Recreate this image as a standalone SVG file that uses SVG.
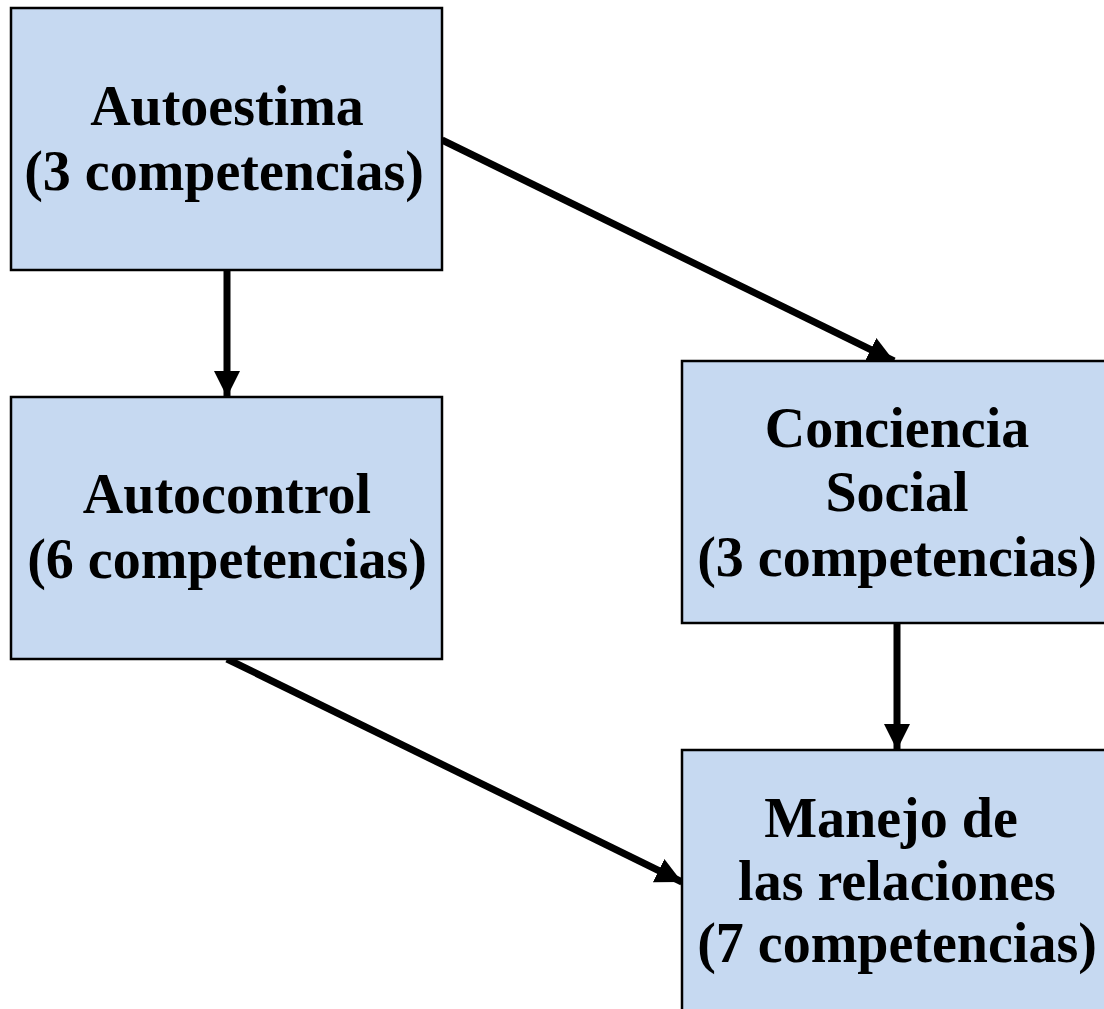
<svg xmlns="http://www.w3.org/2000/svg" width="1104" height="1009" viewBox="0 0 1104 1009">
<defs>
<style>
.box{fill:#C6D9F1;stroke:#000;stroke-width:2.5}
.t{font-family:"Liberation Serif","Times New Roman",serif;font-weight:bold;font-size:56px;fill:#000;text-anchor:middle}
.c{stroke:#000;stroke-width:7;fill:none}
</style>
<marker id="ah" markerUnits="userSpaceOnUse" markerWidth="28" markerHeight="28" viewBox="0 0 28 28" refX="26" refY="14" orient="auto">
<path d="M0,1 L26,14 L0,27 Z" fill="#000"/>
</marker>
</defs>
<rect width="1104" height="1009" fill="#fff"/>
<g id="connectors">
<line class="c" x1="227" y1="270" x2="227" y2="397" marker-end="url(#ah)"/>
<line class="c" x1="442" y1="140" x2="894" y2="361" marker-end="url(#ah)"/>
<line class="c" x1="897" y1="623" x2="897" y2="750" marker-end="url(#ah)"/>
<line class="c" x1="227" y1="659" x2="682" y2="882" marker-end="url(#ah)"/>
</g>
<g id="autoestima">
<rect class="box" x="11" y="8" width="431" height="262"/>
<text class="t" x="227" y="125">Autoestima</text>
<text class="t" x="224" y="190">(3 competencias)</text>
</g>
<g id="autocontrol">
<rect class="box" x="11" y="397" width="431" height="262"/>
<text class="t" x="227" y="513">Autocontrol</text>
<text class="t" x="227" y="578">(6 competencias)</text>
</g>
<g id="conciencia">
<rect class="box" x="682" y="361" width="431" height="262"/>
<text class="t" x="897" y="447">Conciencia</text>
<text class="t" x="897" y="511">Social</text>
<text class="t" x="897" y="576">(3 competencias)</text>
</g>
<g id="manejo">
<rect class="box" x="682" y="750" width="431" height="280"/>
<text class="t" x="891" y="837">Manejo de</text>
<text class="t" x="897" y="900">las relaciones</text>
<text class="t" x="897" y="962">(7 competencias)</text>
</g>
</svg>
